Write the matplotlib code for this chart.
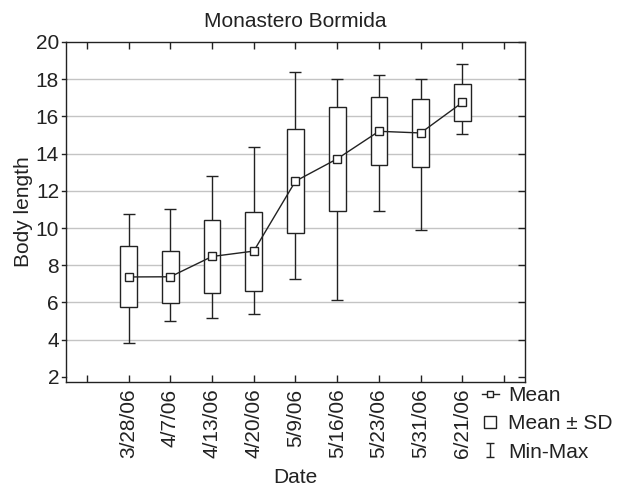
import numpy as np
import matplotlib
matplotlib.use('Agg')
import matplotlib.pyplot as plt
from matplotlib.lines import Line2D
from matplotlib.path import Path

plt.rcParams['font.family'] = ['Liberation Sans', 'DejaVu Sans']

# data
dates = ['3/28/06', '4/7/06', '4/13/06', '4/20/06', '5/9/06',
         '5/16/06', '5/23/06', '5/31/06', '6/21/06']
means = [7.37, 7.38, 8.47, 8.76, 12.52, 13.72, 15.20, 15.11, 16.75]
sds = [1.64, 1.40, 1.96, 2.12, 2.79, 2.80, 1.82, 1.81, 0.99]
mins = [3.83, 5.02, 5.18, 5.36, 7.26, 6.14, 10.89, 9.92, 15.07]
maxs = [10.75, 11.02, 12.82, 14.33, 18.37, 18.02, 18.21, 18.00, 18.80]

means = np.array(means)
sds = np.array(sds)
x = np.arange(1, len(dates) + 1)
fs = 15
ink = '#222222'

fig = plt.figure(figsize=(6.19, 4.90), dpi=100)
ax = fig.add_axes([0.1066, 0.2214, 0.7415, 0.6929])

# grid
for yv in range(4, 20, 2):
    ax.axhline(yv, color='#c4c4c4', lw=1.0, zorder=0)

# min-max whiskers
ax.errorbar(x, means, yerr=[means - np.array(mins), np.array(maxs) - means],
            fmt='none', ecolor=ink, elinewidth=1.0, capsize=4.5,
            capthick=1.0, zorder=2)
# mean +- sd boxes
ax.bar(x, 2 * sds, bottom=means - sds, width=0.4, color='white',
       edgecolor=ink, linewidth=1.0, zorder=3)
# means
ax.plot(x, means, color=ink, lw=1.0, marker='s', markersize=5.5,
        markerfacecolor='white', markeredgecolor=ink,
        markeredgewidth=1.0, zorder=4)

ax.set_xlim(-0.5, 10.5)
ax.set_ylim(1.75, 20)
ax.set_yticks(range(2, 21, 2))
ax.set_xticks(range(0, 11))
ax.set_xticklabels([''] + dates + [''], rotation=90)

for s in ax.spines.values():
    s.set_linewidth(1.0)
    s.set_color(ink)

ax.tick_params(axis='x', direction='in', top=True, length=5, width=1.0,
               labelsize=fs, pad=5, colors=ink)
ax.tick_params(axis='y', left=False, right=True, direction='in',
               length=5, width=1.0, labelsize=fs, pad=5, colors=ink)
ax.tick_params(axis='y', labelleft=True)
# short outward ticks on the left side
for yv in range(2, 21, 2):
    ax.plot([-0.59, -0.5], [yv, yv], color=ink, lw=1.0,
            clip_on=False, zorder=5)

ax.set_title('Monastero Bormida', fontsize=fs, pad=11, color=ink)
ax.set_xlabel('Date', fontsize=fs, labelpad=7, color=ink)
ax.set_ylabel('Body length', fontsize=fs, labelpad=2, color=ink)

# legend
ibeam = Path([(-0.6, -1), (0.6, -1), (0, -1), (0, 1), (-0.6, 1), (0.6, 1)],
             [Path.MOVETO, Path.LINETO, Path.MOVETO, Path.LINETO,
              Path.MOVETO, Path.LINETO])
handles = [
    Line2D([], [], color=ink, lw=1.0, marker='s', markersize=4,
           markerfacecolor='white', markeredgewidth=1.0),
    Line2D([], [], color='none', marker='s', markersize=9,
           markerfacecolor='white', markeredgecolor=ink,
           markeredgewidth=1.0),
    Line2D([], [], color='none', marker=ibeam, markersize=10,
           markerfacecolor='none', markeredgecolor=ink,
           markeredgewidth=1.0),
]
fig.legend(handles, ['Mean', 'Mean \u00b1 SD', 'Min-Max'],
           loc='upper left', bbox_to_anchor=(482 / 619, 1 - 386 / 490),
           frameon=False, fontsize=fs, handlelength=0.8,
           handletextpad=0.45, labelspacing=0.45, borderpad=0,
           borderaxespad=0, labelcolor=ink)

fig.savefig('out.png', dpi=100)
